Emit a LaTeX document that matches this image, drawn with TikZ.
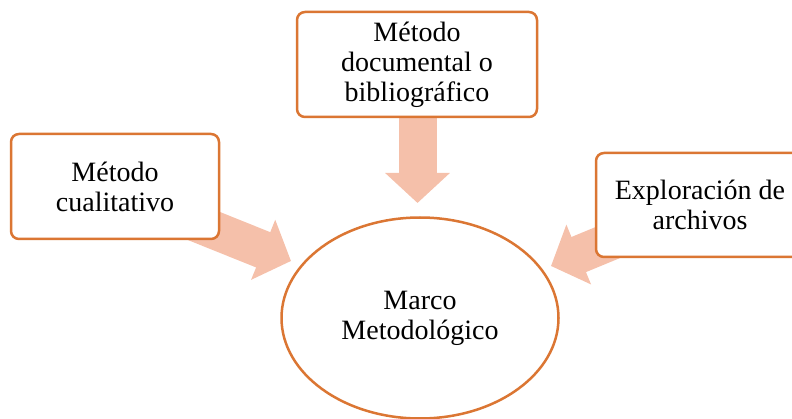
\documentclass[tikz,border=0pt]{standalone}
\usepackage{fontspec}
\setmainfont{Liberation Serif}
\usetikzlibrary{arrows.meta,shapes.geometric}
\definecolor{borderor}{RGB}{219,118,51}
\definecolor{arrowfill}{RGB}{245,192,170}
\tikzset{
  box/.style={draw=borderor, line width=2.5pt, fill=white, rounded corners=8pt,
    align=center, inner sep=0pt, font=\fontsize{28}{30}\selectfont},
  oval/.style={ellipse, draw=borderor, line width=2.5pt, fill=white,
    align=center, inner sep=0pt, font=\fontsize{28}{30}\selectfont},
  blockarrow/.style={draw=arrowfill, line width=38pt,
    -{Triangle[width=63pt,length=30pt]}}
}
\begin{document}
\begin{tikzpicture}[x=1pt,y=-1pt]
\clip (0,0) rectangle (792,419);
% arrow anchors
\coordinate (ts) at (417.5,112);
\coordinate (te) at (417.5,203);
\coordinate (ls) at (189,220);
\coordinate (le) at (291,261);
\coordinate (rs) at (643,228);
\coordinate (re) at (551,266);
\draw[blockarrow] (ts) -- (te);
\draw[blockarrow] (ls) -- (le);
\draw[blockarrow] (rs) -- (re);
% boxes
\node[box, minimum width=240pt, minimum height=105pt] (top) at (417,64.5)
  {Método\\documental o\\bibliográfico};
\node[box, minimum width=208pt, minimum height=105pt] (left) at (115,186.5)
  {Método\\cualitativo};
\node[box, minimum width=208pt, minimum height=104pt] (right) at (700,205)
  {Exploración de\\archivos};
\node[oval, minimum width=277pt, minimum height=201pt] (center) at (420,318)
  {Marco\\Metodológico};
\end{tikzpicture}
\end{document}
